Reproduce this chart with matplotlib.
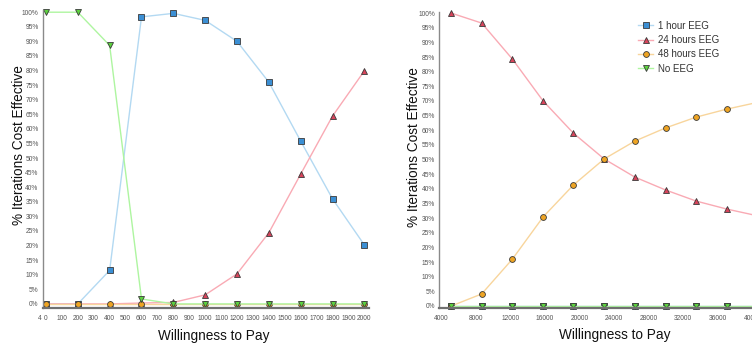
import matplotlib
matplotlib.use("Agg")
import matplotlib.pyplot as plt
from matplotlib.ticker import FixedLocator, FuncFormatter

plt.rcParams['font.family'] = ['Liberation Sans', 'DejaVu Sans']

# ---- data: left panel (low willingness-to-pay range) ----
wtp_low = [0, 200, 400, 600, 800, 1000, 1200, 1400, 1600, 1800, 2000]
low_1h = [0, 0, 11.5, 98.4, 99.6, 97.2, 90.0, 76.0, 55.8, 36.0, 20.2]
low_24h = [0, 0, 0, 0.3, 0.5, 3.1, 10.3, 24.4, 44.5, 64.4, 79.9]
low_48h = [0, 0, 0, 0, 0, 0, 0, 0, 0, 0, 0]
low_none = [100, 100, 88.6, 1.7, 0, 0, 0, 0, 0, 0, 0]

# ---- data: right panel (high willingness-to-pay range) ----
wtp_high = [5200, 8700, 12250, 15800, 19300, 22850, 26400, 29950, 33500, 37000, 40550]
high_1h = [0, 0, 0, 0, 0, 0, 0, 0, 0, 0, 0]
high_24h = [100, 96.6, 84.3, 70.0, 59.0, 50.2, 44.0, 39.6, 35.8, 33.1, 30.8]
high_48h = [0, 4.1, 16.0, 30.4, 41.3, 50.2, 56.3, 60.8, 64.5, 67.2, 69.5]
high_none = [0, 0, 0, 0, 0, 0, 0, 0, 0, 0, 0]

low_ticks = list(range(0, 2001, 100))
high_ticks = list(range(4000, 40001, 4000))
pct_ticks = list(range(0, 101, 5))

series_names = ["1 hour EEG", "24 hours EEG", "48 hours EEG", "No EEG"]
styles = [
    dict(marker="s", mfc="#3b8fd4", color="#b3d9f2"),
    dict(marker="^", mfc="#d8435a", color="#f9aab4"),
    dict(marker="o", mfc="#eea423", color="#f8d59c"),
    dict(marker="v", mfc="#5cd13e", color="#aef5a0"),
]

TICK_SIZE = 4.8
TICK_COLOR = "#555555"
LABEL_SIZE = 9.8

fig = plt.figure(figsize=(7.52, 3.48), dpi=100)
ax1 = fig.add_axes([0.0569, 0.1158, 0.434, 0.855])
ax2 = fig.add_axes([0.5838, 0.1158, 0.463, 0.849])


def draw(ax, xs, series):
    for name, ys, st in zip(series_names, series, styles):
        ax.plot(xs, ys, label=name, lw=1.0, marker=st["marker"], ms=4.2,
                mfc=st["mfc"], mec="#3a3a3a", mew=0.6, color=st["color"],
                clip_on=False)


def style(ax, xticks, ylabel_x, xlabel_x):
    for s in ("top", "right"):
        ax.spines[s].set_visible(False)
    ax.spines["left"].set_color("#8a8a8a")
    ax.spines["left"].set_linewidth(1.0)
    ax.spines["bottom"].set_color("#707070")
    ax.spines["bottom"].set_linewidth(1.6)
    ax.xaxis.set_major_locator(FixedLocator(xticks))
    ax.yaxis.set_major_locator(FixedLocator(pct_ticks))
    ax.yaxis.set_major_formatter(FuncFormatter(lambda v, p: f"{int(v)}%"))
    ax.tick_params(axis="both", length=0, labelsize=TICK_SIZE,
                   labelcolor=TICK_COLOR, pad=3)
    ax.xaxis.set_tick_params(pad=5)
    ax.set_ylabel("% Iterations Cost Effective", fontsize=LABEL_SIZE, color="#111111")
    ax.yaxis.set_label_coords(ylabel_x, 0.545)
    ax.set_xlabel("Willingness to Pay", fontsize=LABEL_SIZE, color="#111111")
    ax.xaxis.set_label_coords(xlabel_x, -0.07)


draw(ax1, wtp_low, [low_1h, low_24h, low_48h, low_none])
ax1.set_xlim(-20, 2030)
ax1.set_ylim(-1.3, 100.7)
style(ax1, low_ticks, -0.052, 0.525)
ax1.annotate("4", xy=(-38, 0), xycoords=("data", "axes fraction"),
             xytext=(0, -5), textcoords="offset points",
             fontsize=TICK_SIZE, color=TICK_COLOR, ha="center", va="top",
             annotation_clip=False)

draw(ax2, wtp_high, [high_1h, high_24h, high_48h, high_none])
ax2.set_xlim(3770, 44000)
ax2.set_ylim(-0.6, 100.3)
style(ax2, high_ticks, -0.051, 0.505)

leg = ax2.legend(loc="upper left", bbox_to_anchor=(0.56, 0.985), frameon=False,
                 fontsize=7.0, handlelength=1.6, handletextpad=0.5,
                 labelspacing=0.45, borderaxespad=0)
for t in leg.get_texts():
    t.set_color("#333333")

fig.savefig("out.png", dpi=100)
